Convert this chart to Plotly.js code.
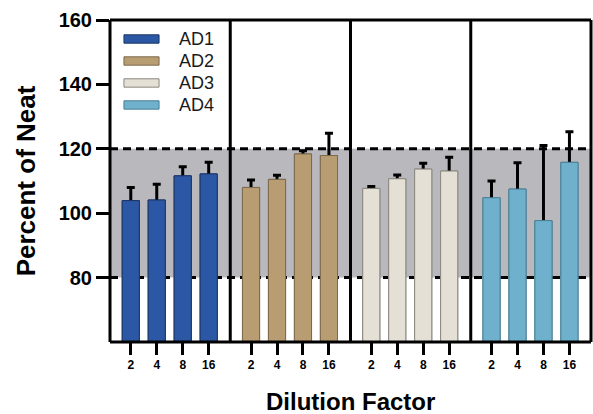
<!DOCTYPE html>
<html><head><meta charset="utf-8">
<script src="https://cdn.plot.ly/plotly-3.0.1.min.js"></script>
<style>html,body{margin:0;padding:0;background:#fff}#chart{width:593px;height:414px}</style>
</head><body><div id="chart"></div>
<script>
// ---- data ----
const dilutions = ['2', '4', '8', '16'];
const seriesNames = ['AD1', 'AD2', 'AD3', 'AD4'];
const ad1 = [103.9, 104.1, 111.6, 112.2];
const ad1Err = [4.1, 4.9, 2.8, 3.6];
const ad2 = [108.0, 110.5, 118.4, 117.9];
const ad2Err = [2.3, 1.3, 1.0, 6.9];
const ad3 = [107.7, 110.7, 113.7, 113.1];
const ad3Err = [0.6, 1.2, 1.8, 4.3];
const ad4 = [104.8, 107.5, 97.7, 115.8];
const ad4Err = [5.2, 8.2, 23.3, 9.5];
const yTickVals = [80, 100, 120, 140, 160];
const acceptLow = 80;
const acceptHigh = 120;
const yMin = 60, yMax = 160;

// ---- styles ----
const colors = ['#2c57a5', '#b89c72', '#e4e0d6', '#6fb1cc'];
const outline = ['#1d3766', '#7d6a4e', '#8a877f', '#4a7f95'];
const FONT = 'Liberation Sans, Arial, Helvetica, sans-serif';

const values = [ad1, ad2, ad3, ad4];
const errors = [ad1Err, ad2Err, ad3Err, ad4Err];

const traces = [];
const layout = {
  width: 593, height: 414,
  margin: {l: 110, r: 2, t: 20, b: 72, pad: 0},
  paper_bgcolor: '#ffffff', plot_bgcolor: '#ffffff',
  barmode: 'overlay', showlegend: false,
  font: {family: FONT, color: '#000'},
  yaxis: {
    range: [yMin, yMax], tickvals: yTickVals, ticks: 'outside', ticklen: 13, tickwidth: 3,
    tickcolor: '#000', showline: false, showgrid: false, zeroline: false, anchor: 'x',
    tickfont: {family: FONT, size: 20, weight: 'bold', color: '#000'},
    title: {text: 'Percent of Neat', font: {family: FONT, size: 26, weight: 'bold', color: '#000'}, standoff: 15}
  },
  shapes: [], annotations: []
};

seriesNames.forEach((name, i) => {
  const xa = i === 0 ? 'x' : 'x' + (i + 1);
  const xkey = i === 0 ? 'xaxis' : 'xaxis' + (i + 1);
  // underlying trace carrying the error bars (lower half hidden by the bars drawn above)
  traces.push({
    type: 'bar', x: dilutions, y: values[i], xaxis: xa, yaxis: 'y', width: 0.66,
    marker: {color: colors[i], line: {color: outline[i], width: 1}},
    error_y: {type: 'data', array: errors[i], symmetric: true, color: '#000', thickness: 3, width: 4},
    hoverinfo: 'skip', showlegend: false, name: name + ' err'
  });
  traces.push({
    type: 'bar', x: dilutions, y: values[i], xaxis: xa, yaxis: 'y', width: 0.66, name: name,
    marker: {color: colors[i], line: {color: outline[i], width: 1}}, showlegend: false
  });
  layout[xkey] = {
    domain: [i * 0.25, (i + 1) * 0.25], anchor: 'y', type: 'category',
    categoryorder: 'array', categoryarray: dilutions, range: [-0.8, 3.83],
    ticks: 'outside', ticklen: 12, tickwidth: 3, tickcolor: '#000',
    showline: false, showgrid: false, zeroline: false,
    tickfont: {family: FONT, size: 12, weight: 'bold', color: '#000'}
  };
  // manual legend (wide swatches)
  const ly = 0.941 - i * 0.0683;
  layout.shapes.push({type: 'rect', xref: 'paper', yref: 'paper', x0: 0.029, x1: 0.102,
    y0: ly - 0.013, y1: ly + 0.013, fillcolor: colors[i], line: {color: outline[i], width: 1}, layer: 'above'});
  layout.annotations.push({xref: 'paper', yref: 'paper', x: 0.139, y: ly, xanchor: 'left', yanchor: 'middle',
    text: name, showarrow: false, font: {family: FONT, size: 18, color: '#1a1a1a'}});
});

// acceptance band and its dashed limits
layout.shapes.unshift(
  {type: 'rect', xref: 'paper', yref: 'y', x0: 0, x1: 1, y0: acceptLow, y1: acceptHigh,
   fillcolor: '#b8b8bd', line: {width: 0}, layer: 'below'},
  {type: 'line', xref: 'paper', yref: 'y', x0: 0, x1: 1, y0: acceptLow, y1: acceptLow,
   line: {color: '#000', width: 3, dash: '8px,5px'}, layer: 'below'},
  {type: 'line', xref: 'paper', yref: 'y', x0: 0, x1: 1, y0: acceptHigh, y1: acceptHigh,
   line: {color: '#000', width: 3, dash: '8px,5px'}, layer: 'below'}
);
// frame and panel dividers
[0, 0.25, 0.5, 0.75, 1].forEach(p => {
  layout.shapes.push({type: 'line', xref: 'paper', yref: 'paper', x0: p, x1: p, y0: 0, y1: 1,
    line: {color: '#000', width: 3}, layer: 'above'});
});
layout.shapes.push(
  {type: 'line', xref: 'paper', yref: 'paper', x0: 0, x1: 1, y0: 1, y1: 1, line: {color: '#000', width: 3}, layer: 'above'},
  {type: 'line', xref: 'paper', yref: 'paper', x0: 0, x1: 1, y0: 0, y1: 0, line: {color: '#000', width: 3}, layer: 'above'}
);
// overall x title
layout.annotations.push({xref: 'paper', yref: 'paper', x: 0.5, y: -0.186, xanchor: 'center', yanchor: 'middle',
  text: 'Dilution Factor', showarrow: false, font: {family: FONT, size: 24, weight: 'bold', color: '#000'}});

Plotly.newPlot('chart', traces, layout, {displayModeBar: false, staticPlot: true});
</script>
</body></html>
